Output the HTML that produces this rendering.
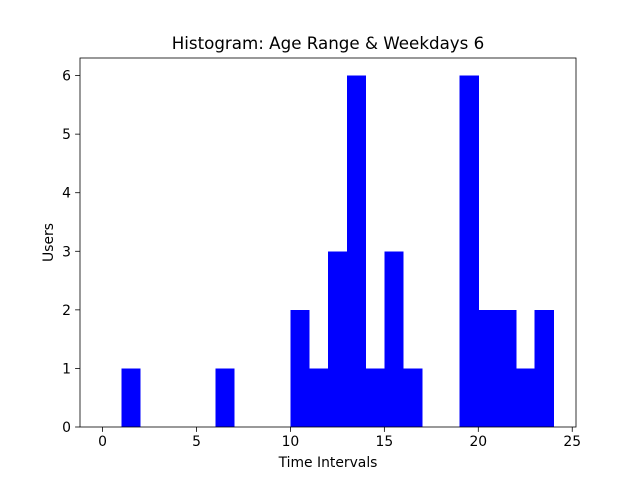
<!DOCTYPE html>
<html><head><meta charset="utf-8"><style>
body{margin:0;background:#fff;}
text{font-family:"DejaVu Sans","Liberation Sans",sans-serif;fill:#000;}
</style></head><body>
<svg id="chart" width="640" height="480" xmlns="http://www.w3.org/2000/svg">
<rect width="640" height="480" fill="#fff"/>
<g id="bars" shape-rendering="crispEdges"></g>
<g id="axes"></g>
<text x="328" y="49" font-size="16.7" text-anchor="middle">Histogram: Age Range &amp; Weekdays 6</text>
<text x="328" y="467" font-size="13.9" text-anchor="middle">Time Intervals</text>
<text x="53" y="242.5" font-size="13.9" text-anchor="middle" transform="rotate(-90 53 242.5)">Users</text>
</svg>
<script>
const binEdges=[0,1,2,3,4,5,6,7,8,9,10,11,12,13,14,15,16,17,18,19,20,21,22,23,24];
const counts=[0,1,0,0,0,0,1,0,0,0,2,1,3,6,1,3,1,0,0,6,2,2,1,2];
const xTicks=[0,5,10,15,20,25];
const yTicks=[0,1,2,3,4,5,6];
const L=80,R=576,T=58,B=427;
const xmin=-1.2,xmax=25.2,ymin=0,ymax=6.3;
const sx=v=>L+(v-xmin)/(xmax-xmin)*(R-L);
const sy=v=>B-(v-ymin)/(ymax-ymin)*(B-T);
const NS="http://www.w3.org/2000/svg";
const bars=document.getElementById('bars'),axes=document.getElementById('axes');
function mk(t,a,p){const e=document.createElementNS(NS,t);for(const k in a)e.setAttribute(k,a[k]);p.appendChild(e);return e;}
counts.forEach((c,i)=>{if(c<=0)return;
const r=mk('rect',{x:sx(binEdges[i]),y:sy(c),width:sx(binEdges[i+1])-sx(binEdges[i])+0.5,height:sy(0)-sy(c),fill:'#0000ff'},bars);

});
const f=mk('rect',{x:L,y:T,width:R-L,height:B-T,fill:'none',stroke:'#000','stroke-width':0.8},axes);


xTicks.forEach(v=>{const x=sx(v);mk('line',{x1:x,x2:x,y1:B,y2:B+4.9,stroke:'#000','stroke-width':0.8},axes);
const t=mk('text',{x:x,y:B+19,'font-size':13.9,'text-anchor':'middle'},axes);t.textContent=v;

});
yTicks.forEach(v=>{const y=sy(v);mk('line',{x1:L-4.9,x2:L,y1:y,y2:y,stroke:'#000','stroke-width':0.8},axes);
const t=mk('text',{x:L-9,y:y+5,'font-size':13.9,'text-anchor':'end'},axes);t.textContent=v;

});
</script>
</body></html>
